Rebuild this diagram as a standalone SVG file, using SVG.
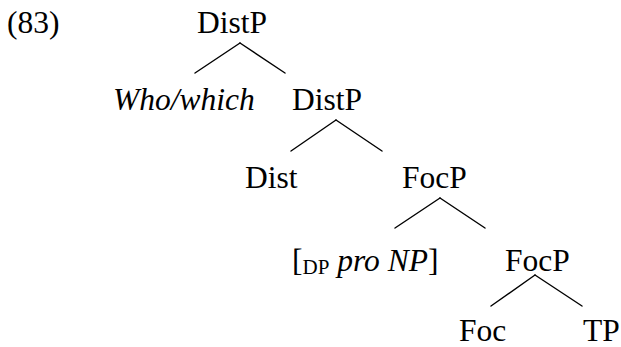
<svg xmlns="http://www.w3.org/2000/svg" width="621" height="347" viewBox="0 0 621 347">
<rect width="621" height="347" fill="#fff"/>
<g id="nodes" font-family="Liberation Serif, serif" font-size="31.5" fill="#000">
<g id="label"><text x="7" y="33">(83)</text></g>
<g id="n-distp1"><text x="197" y="33">DistP</text></g>
<g id="n-who"><text font-style="italic" x="113" y="110">Who/which</text></g>
<g id="n-distp2"><text x="292" y="110">DistP</text></g>
<g id="n-dist"><text x="245" y="188">Dist</text></g>
<g id="n-focp1"><text x="402" y="188">FocP</text></g>
<g id="n-dp"><text x="292" y="271">[<tspan font-size="21" dy="3">DP</tspan><tspan dy="-3"> </tspan><tspan font-style="italic">pro NP</tspan>]</text></g>
<g id="n-focp2"><text x="505" y="271">FocP</text></g>
<g id="n-foc"><text x="459" y="341">Foc</text></g>
<g id="n-tp"><text x="583" y="341">TP</text></g>
</g>
<g id="edges" stroke="#000" stroke-width="1.4" stroke-linecap="round">
<line x1="240" y1="43" x2="195" y2="73"/>
<line x1="240" y1="43" x2="285" y2="73"/>
<line x1="336" y1="120" x2="291" y2="151"/>
<line x1="336" y1="120" x2="382" y2="151"/>
<line x1="440" y1="198" x2="395" y2="228"/>
<line x1="440" y1="198" x2="485" y2="228"/>
<line x1="535" y1="275" x2="491" y2="306"/>
<line x1="535" y1="275" x2="582" y2="306"/>
</g>
</svg>
